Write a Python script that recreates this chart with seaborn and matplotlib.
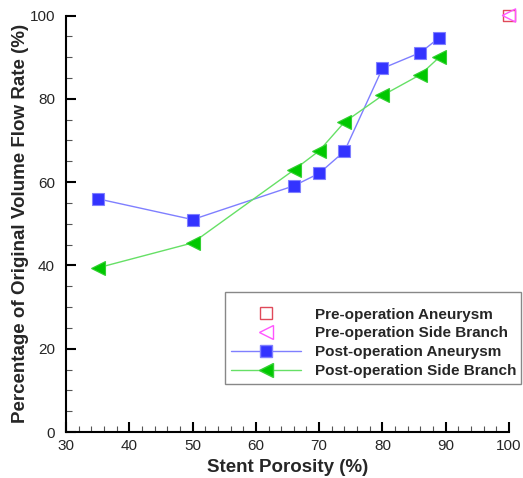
import numpy as np
import pandas as pd
import matplotlib
matplotlib.use("Agg")
import matplotlib.pyplot as plt
import seaborn as sns
from matplotlib.ticker import MultipleLocator
from matplotlib.lines import Line2D
from matplotlib.patches import Rectangle

# data
porosity = [35, 50, 66, 70, 74, 80, 86, 89]
post_aneurysm = [56.0, 51.0, 59.1, 62.1, 67.4, 87.3, 91.1, 94.7]
post_side = [39.4, 45.4, 62.9, 67.5, 74.4, 80.8, 85.8, 90.0]
pre_porosity = [100]
pre_aneurysm = [100]
pre_side = [100]

sns.set_theme(style="white")
plt.rcParams["font.family"] = ["Liberation Sans", "DejaVu Sans"]

fig = plt.figure(figsize=(5.23, 4.78), dpi=100)
ax = fig.add_axes([66/523, 1 - 432/478, (509-66)/523, (432-15.5)/478])

df_post = pd.DataFrame({"x": porosity, "aneurysm": post_aneurysm, "side": post_side})
df_pre = pd.DataFrame({"x": pre_porosity, "aneurysm": pre_aneurysm, "side": pre_side})

sns.lineplot(data=df_post, x="x", y="aneurysm", ax=ax, color="#7f7fff", lw=1,
             marker="s", markersize=8, markerfacecolor="#3333ff",
             markeredgecolor="#8080ff", markeredgewidth=0.8, clip_on=False)
sns.lineplot(data=df_post, x="x", y="side", ax=ax, color="#66e066", lw=1,
             marker="<", markersize=10, markerfacecolor="#00c800",
             markeredgecolor="#33d033", markeredgewidth=0.8, clip_on=False)
sns.scatterplot(data=df_pre, x="x", y="aneurysm", ax=ax, marker="s", s=64,
                facecolor="none", edgecolor="#e04a5a", linewidth=1, clip_on=False)
sns.scatterplot(data=df_pre, x="x", y="side", ax=ax, marker="<", s=90,
                facecolor="none", edgecolor="#ff55ff", linewidth=1, clip_on=False)

ax.set_xlim(30, 100)
ax.set_ylim(0, 100)
ax.xaxis.set_major_locator(MultipleLocator(10))
ax.xaxis.set_minor_locator(MultipleLocator(2))
ax.yaxis.set_major_locator(MultipleLocator(20))
ax.yaxis.set_minor_locator(MultipleLocator(5))
ax.tick_params(which="major", direction="in", length=7, width=1.5, labelsize=11,
               bottom=True, left=True, color="black")
ax.tick_params(axis="x", which="major", pad=5)
ax.tick_params(axis="y", which="major", pad=8)
ax.tick_params(which="minor", direction="in", length=4, width=0.8,
               bottom=True, left=True, color="#555555")
for s in ["top", "right"]:
    ax.spines[s].set_visible(False)
for s in ["left", "bottom"]:
    ax.spines[s].set_color("black")
    ax.spines[s].set_linewidth(1.5)

ax.set_xlabel("Stent Porosity (%)", fontsize=13.5, fontweight="bold", labelpad=4)
ax.set_ylabel("Percentage of Original Volume Flow Rate (%)", fontsize=13.5,
              fontweight="bold", labelpad=0)

handles = [
    Line2D([], [], ls="none", marker="s", ms=8, mfc="none", mec="#e04a5a"),
    Line2D([], [], ls="none", marker="<", ms=10, mfc="none", mec="#ff55ff"),
    Line2D([], [], color="#7f7fff", lw=1, marker="s", ms=8, mfc="#3333ff", mec="#8080ff"),
    Line2D([], [], color="#66e066", lw=1, marker="<", ms=10, mfc="#00c800", mec="#33d033"),
]
labels = ["Pre-operation Aneurysm", "Pre-operation Side Branch",
          "Post-operation Aneurysm", "Post-operation Side Branch"]
fig.legend(handles, labels, loc="upper left",
           bbox_to_anchor=(231/523, 1 - 307.5/478),
           prop={"weight": "bold", "size": 11}, frameon=False,
           handlelength=4.6, labelspacing=0.325, borderpad=0, borderaxespad=0,
           handletextpad=0.9)
fig.patches.append(Rectangle((225/523, 1 - 384/478), (521-225)/523, (384-292)/478,
                             transform=fig.transFigure, fill=False,
                             edgecolor="#888888", lw=1))

fig.savefig("out.png", dpi=100)
